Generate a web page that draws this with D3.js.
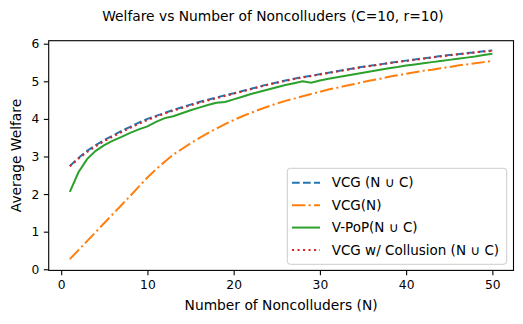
<!DOCTYPE html>
<html>
<head>
<meta charset="utf-8">
<script src="https://cdn.jsdelivr.net/npm/d3@7"></script>
<style>
  body { margin: 0; background: #fff; }
  svg { display: block; font-family: "DejaVu Sans", sans-serif; }
</style>
</head>
<body>
<div id="chart"></div>
<script>
// number of noncolluders on the x axis
const nValues = d3.range(1, 51);

const vcgAll = [2.75, 2.96, 3.15, 3.30, 3.44, 3.56, 3.68, 3.79, 3.90, 4.00,
  4.08, 4.16, 4.24, 4.31, 4.38, 4.45, 4.51, 4.57, 4.63, 4.68,
  4.74, 4.80, 4.86, 4.92, 4.97, 5.02, 5.07, 5.11, 5.15, 5.19,
  5.23, 5.27, 5.31, 5.35, 5.39, 5.42, 5.45, 5.49, 5.52, 5.55,
  5.58, 5.61, 5.64, 5.67, 5.70, 5.72, 5.75, 5.77, 5.80, 5.82];

const vcgN = [0.27, 0.51, 0.75, 0.99, 1.23, 1.47, 1.71, 1.95, 2.20, 2.44,
  2.66, 2.86, 3.05, 3.20, 3.35, 3.49, 3.62, 3.74, 3.86, 3.97,
  4.07, 4.16, 4.25, 4.33, 4.41, 4.48, 4.54, 4.60, 4.66, 4.72,
  4.78, 4.83, 4.88, 4.93, 4.98, 5.03, 5.07, 5.12, 5.16, 5.20,
  5.24, 5.28, 5.31, 5.35, 5.38, 5.42, 5.45, 5.48, 5.51, 5.54];

const vpop = [2.06, 2.58, 2.93, 3.15, 3.30, 3.42, 3.52, 3.63, 3.72, 3.80,
  3.92, 4.02, 4.07, 4.15, 4.23, 4.30, 4.37, 4.43, 4.45, 4.52,
  4.59, 4.66, 4.72, 4.78, 4.84, 4.90, 4.95, 5.00, 4.96, 5.02,
  5.07, 5.11, 5.15, 5.19, 5.23, 5.27, 5.31, 5.35, 5.38, 5.42,
  5.45, 5.48, 5.51, 5.54, 5.57, 5.60, 5.63, 5.66, 5.70, 5.73];

const vcgCollusion = [2.74, 2.94, 3.12, 3.27, 3.41, 3.53, 3.65, 3.76, 3.87, 3.97,
  4.06, 4.14, 4.22, 4.29, 4.36, 4.43, 4.49, 4.55, 4.61, 4.67,
  4.73, 4.79, 4.85, 4.91, 4.96, 5.01, 5.06, 5.10, 5.14, 5.18,
  5.22, 5.26, 5.30, 5.34, 5.38, 5.41, 5.45, 5.48, 5.51, 5.54,
  5.57, 5.60, 5.63, 5.66, 5.69, 5.72, 5.74, 5.77, 5.79, 5.81];

const seriesNames = ["VCG (N \u222a C)", "VCG(N)", "V-PoP(N \u222a C)", "VCG w/ Collusion (N \u222a C)"];
const xTicks = [0, 10, 20, 30, 40, 50];
const yTicks = [0, 1, 2, 3, 4, 5, 6];

const width = 523, height = 324;
const plot = { left: 48.7, right: 513.5, top: 40.7, bottom: 270.4 };

const svg = d3.select("#chart").append("svg")
  .attr("width", width)
  .attr("height", height);

const x = d3.scaleLinear().domain([-1.45, 52.45]).range([plot.left, plot.right]);
const y = d3.scaleLinear().domain([-0.03, 6.08]).range([plot.bottom, plot.top]);

const series = [
  { name: seriesNames[0], values: vcgAll, color: "#1f77b4", dash: "7.7,3.3" },
  { name: seriesNames[1], values: vcgN, color: "#ff7f0e", dash: "13.3,3.3,2.1,3.3" },
  { name: seriesNames[2], values: vpop, color: "#2ca02c", dash: null },
  { name: seriesNames[3], values: vcgCollusion, color: "#d62728", dash: "2.1,3.4" }
];

const line = d3.line()
  .x((d, i) => x(nValues[i]))
  .y(d => y(d));

series.forEach(s => {
  svg.append("path")
    .datum(s.values)
    .attr("fill", "none")
    .attr("stroke", s.color)
    .attr("stroke-width", 2)
    .attr("stroke-dasharray", s.dash)
    .attr("d", line);
});

// axes
const xAxis = svg.append("g")
  .attr("transform", `translate(0,${plot.bottom})`)
  .call(d3.axisBottom(x).tickValues(xTicks).tickFormat(d3.format("d"))
    .tickSize(4.9).tickPadding(4.5).tickSizeOuter(0));
const yAxis = svg.append("g")
  .attr("transform", `translate(${plot.left},0)`)
  .call(d3.axisLeft(y).tickValues(yTicks).tickFormat(d3.format("d"))
    .tickSize(4.9).tickPadding(4.5).tickSizeOuter(0));

[xAxis, yAxis].forEach(a => {
  a.select(".domain").remove();
  a.selectAll("line").attr("stroke", "#000").attr("stroke-width", 1.1);
  a.selectAll("text")
    .attr("fill", "#000")
    .style("font-family", "DejaVu Sans")
    .style("font-size", "12.3px");
});

// frame
svg.append("rect")
  .attr("x", plot.left)
  .attr("y", plot.top)
  .attr("width", plot.right - plot.left)
  .attr("height", plot.bottom - plot.top)
  .attr("fill", "none")
  .attr("stroke", "#000")
  .attr("stroke-width", 1.1);

// title and labels
svg.append("text")
  .attr("x", 273)
  .attr("y", 20.7)
  .attr("text-anchor", "middle")
  .style("font-size", "13.8px")
  .text("Welfare vs Number of Noncolluders (C=10, r=10)");

svg.append("text")
  .attr("x", (plot.left + plot.right) / 2)
  .attr("y", 309.5)
  .attr("text-anchor", "middle")
  .style("font-size", "13.8px")
  .text("Number of Noncolluders (N)");

svg.append("text")
  .attr("transform", `translate(20.5,${(plot.top + plot.bottom) / 2}) rotate(-90)`)
  .attr("text-anchor", "middle")
  .style("font-size", "13.8px")
  .text("Average Welfare");

// legend
const legend = svg.append("g");
legend.append("rect")
  .attr("x", 287.3)
  .attr("y", 168.3)
  .attr("width", 219.4)
  .attr("height", 96)
  .attr("rx", 3)
  .attr("fill", "#fff")
  .attr("fill-opacity", 0.8)
  .attr("stroke", "#ccc")
  .attr("stroke-width", 1);

const rowY = d3.scaleLinear().domain([0, 3]).range([182.7, 250]);
series.forEach((s, i) => {
  legend.append("line")
    .attr("x1", 292)
    .attr("x2", 320)
    .attr("y1", rowY(i))
    .attr("y2", rowY(i))
    .attr("stroke", s.color)
    .attr("stroke-width", 2)
    .attr("stroke-dasharray", s.dash);
  legend.append("text")
    .attr("x", 331.7)
    .attr("y", rowY(i))
    .attr("dy", "0.35em")
    .style("font-size", "13.5px")
    .text(s.name);
});
</script>
</body>
</html>
